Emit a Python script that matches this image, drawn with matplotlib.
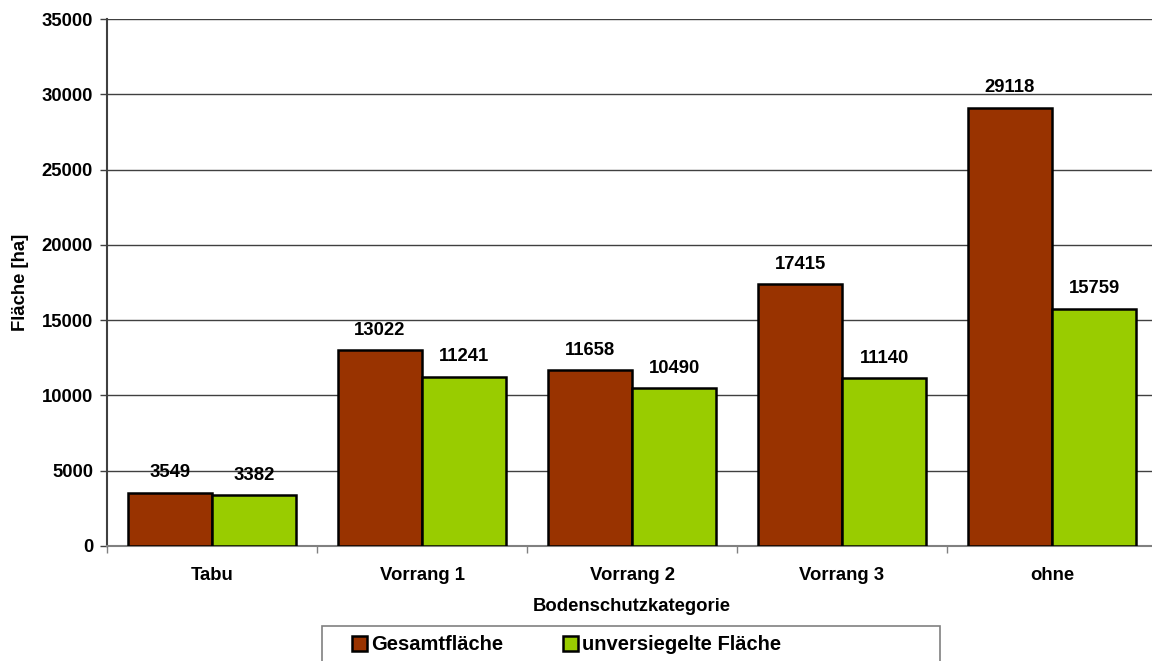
import matplotlib.pyplot as plt
import matplotlib.patches as patches
import numpy as np

plt.rcParams['font.family'] = ['Liberation Sans', 'DejaVu Sans']
plt.rcParams['font.weight'] = 'bold'

# Daten
categories = ['Tabu', 'Vorrang 1', 'Vorrang 2', 'Vorrang 3', 'ohne']
gesamt = [3549, 13022, 11658, 17415, 29118]
unversiegelt = [3382, 11241, 10490, 11140, 15759]
series_names = ['Gesamtfläche', 'unversiegelte Fläche']
yticks = [0, 5000, 10000, 15000, 20000, 25000, 30000, 35000]

W, H = 1152, 661
fig = plt.figure(figsize=(W / 100, H / 100), dpi=100)
# Achsenbereich in Pixeln
left, top, bottom, width = 107, 19, 546, 1050
ax = fig.add_axes([left / W, 1 - bottom / H, width / W, (bottom - top) / H])

fs = 13.3
x = np.arange(len(categories))
bw = 0.4
b1 = ax.bar(x - bw / 2, gesamt, bw, color='#993300', edgecolor='black', linewidth=1.8,
            label=series_names[0], zorder=3)
b2 = ax.bar(x + bw / 2, unversiegelt, bw, color='#99CC00', edgecolor='black', linewidth=1.8,
            label=series_names[1], zorder=3)

for bars, vals in [(b1, gesamt), (b2, unversiegelt)]:
    for r, v in zip(bars, vals):
        ax.annotate(str(v), (r.get_x() + r.get_width() / 2, v), xytext=(0, 11),
                    textcoords='offset points', ha='center', va='baseline',
                    fontsize=fs, fontweight='bold')

ax.set_xlim(-0.5, len(categories) - 0.5)
ax.set_ylim(0, 35000)
ax.set_yticks(yticks)
ax.set_yticklabels([str(t) for t in yticks], fontsize=fs, fontweight='bold')
ax.set_xticks(x)
ax.set_xticklabels(categories, fontsize=fs, fontweight='bold')
ax.set_xticks(np.arange(-0.5, len(categories)), minor=True)
ax.tick_params(axis='x', which='major', length=0, pad=15)
ax.tick_params(axis='x', which='minor', length=5, color='#808080', width=1)
ax.tick_params(axis='y', length=5, color='#404040', width=1, pad=5)

ax.yaxis.grid(True, color='#404040', linewidth=1, zorder=0)
ax.set_axisbelow(True)
for s in ['top', 'right']:
    ax.spines[s].set_visible(False)
ax.spines['left'].set_color('#404040')
ax.spines['left'].set_linewidth(1.5)
ax.spines['bottom'].set_color('#808080')
ax.spines['bottom'].set_linewidth(1.5)

ax.set_xlabel('Bodenschutzkategorie', fontsize=fs, fontweight='bold', labelpad=10)
ax.set_ylabel('Fläche [ha]', fontsize=fs, fontweight='bold', labelpad=9)

# Legendenrahmen
fig.patches.append(patches.Rectangle((322 / W, -0.02), 618 / W, 1 - 626 / H + 0.02,
                                     transform=fig.transFigure, facecolor='white',
                                     edgecolor='#808080', linewidth=1.2))
leg = fig.legend(handles=[b1, b2], labels=series_names, loc='center left',
                 bbox_to_anchor=(338 / W, 1 - 645 / H), ncol=2, frameon=False,
                 handlelength=0.75, handleheight=0.75, handletextpad=0.2,
                 columnspacing=2.95, borderpad=0.2, prop={'weight': 'bold', 'size': 14.5})

fig.savefig('out.png', dpi=100)
